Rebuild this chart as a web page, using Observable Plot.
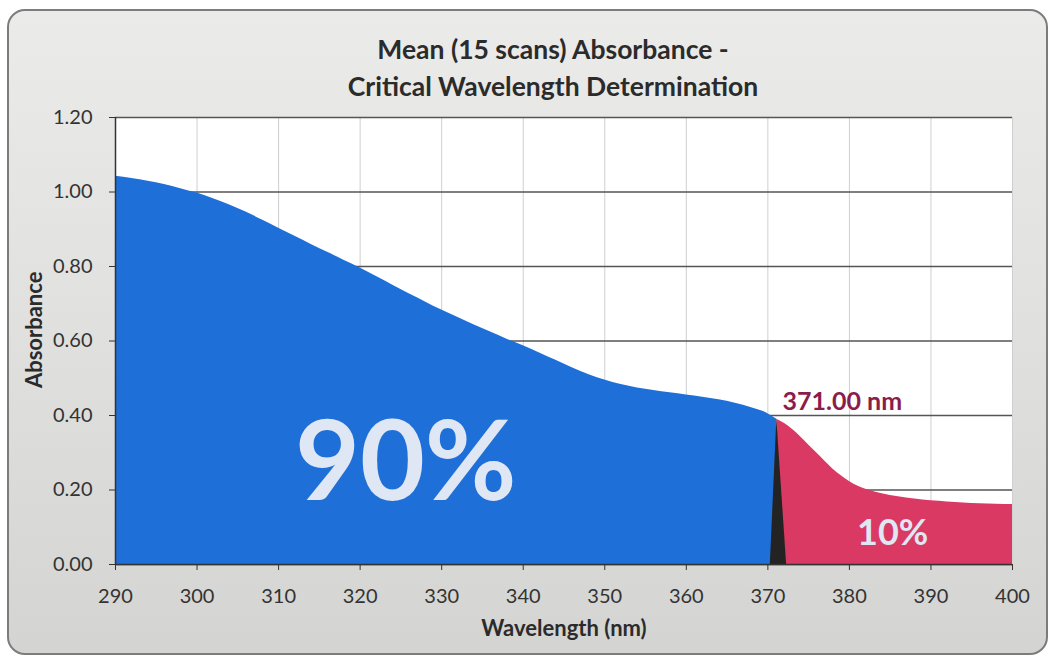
<!DOCTYPE html>
<html>
<head>
<meta charset="utf-8">
<script src="https://cdn.jsdelivr.net/npm/d3@7"></script>
<script src="https://cdn.jsdelivr.net/npm/@observablehq/plot@0.6"></script>
<style>
  html, body { margin: 0; padding: 0; background: #ffffff; }
  #wrap { position: relative; width: 1050px; height: 658px; overflow: hidden; font-family: Lato, "Open Sans", sans-serif; }
  #panel { position: absolute; left: 7px; top: 9px; width: 1037px; height: 642px; border: 2px solid #7c7c7c; border-radius: 18px;
           background: linear-gradient(180deg, #ebebea 0%, #e0e0df 50%, #d4d4d2 100%); }
  #title { position: absolute; left: 0; top: 31px; width: 1106px; text-align: center; font-weight: bold; font-size: 26.5px;
           line-height: 37px; color: #2b2b2b; }
  #chart { position: absolute; left: 0; top: 0; }
</style>
</head>
<body>
<div id="wrap">
  <div id="panel"></div>
  <div id="title">Mean (15 scans) Absorbance -<br>Critical Wavelength Determination</div>
  <div id="chart"></div>
</div>
<script>
// Wavelength (nm) and absorbance
const blueWavelength = [290, 292, 294, 296, 298, 300, 302, 304, 306, 308, 310, 312, 314, 316, 318, 320, 322, 324, 326, 328, 330, 332, 334, 336, 338, 340, 342, 344, 346, 348, 350, 352, 354, 356, 358, 360, 362, 364, 366, 368, 370, 371.1];
const blueAbsorbance = [1.042, 1.036, 1.029, 1.020, 1.009, 0.997, 0.982, 0.965, 0.946, 0.925, 0.903, 0.881, 0.859, 0.838, 0.817, 0.796, 0.773, 0.750, 0.727, 0.705, 0.683, 0.663, 0.643, 0.624, 0.605, 0.587, 0.568, 0.548, 0.528, 0.510, 0.495, 0.483, 0.474, 0.467, 0.461, 0.455, 0.449, 0.442, 0.433, 0.421, 0.405, 0.390];

const redWavelength = [371.1, 372, 373, 374, 375, 376, 377, 378, 379, 380, 381, 382, 384, 386, 388, 390, 392, 394, 396, 398, 400];
const redAbsorbance = [0.390, 0.379, 0.363, 0.343, 0.321, 0.299, 0.277, 0.256, 0.238, 0.223, 0.211, 0.202, 0.190, 0.182, 0.176, 0.171, 0.168, 0.165, 0.163, 0.162, 0.161];

// dark sliver at the critical wavelength
const criticalWavelength = [370.3, 371.1, 372.3];
const criticalAbsorbance = [0, 0.390, 0];

const xTicks = [290, 300, 310, 320, 330, 340, 350, 360, 370, 380, 390, 400];
const yTicks = [0, 0.2, 0.4, 0.6, 0.8, 1.0, 1.2];

const labelTexts = ["90%", "10%"];
const labelWavelength = [325.6, 385.3];
const labelAbsorbance = [0.27, 0.082];
const labelSizes = [112, 36];

const criticalLabel = "371.00 nm";
const criticalLabelPos = [371.8, 0.437];

const blue = blueWavelength.map((w, i) => ({w, a: blueAbsorbance[i]}));
const red = redWavelength.map((w, i) => ({w, a: redAbsorbance[i]}));
const crit = criticalWavelength.map((w, i) => ({w, a: criticalAbsorbance[i]}));
const labels = labelTexts.map((t, i) => ({t, w: labelWavelength[i], a: labelAbsorbance[i], s: labelSizes[i]}));

const chart = Plot.plot({
  width: 1050,
  height: 658,
  marginLeft: 115,
  marginRight: 38,
  marginTop: 117,
  marginBottom: 94,
  style: { background: "transparent", fontFamily: "Lato, 'Open Sans', sans-serif", fontSize: "20px", color: "#333" },
  x: { domain: [290, 400], ticks: xTicks, label: null },
  y: { domain: [0, 1.2], ticks: yTicks, label: null },
  marks: [
    Plot.frame({ fill: "#ffffff", stroke: null }),
    Plot.gridX(xTicks, { stroke: "#cfcfcf", strokeOpacity: 1, strokeWidth: 1 }),
    Plot.gridY(yTicks, { stroke: "#555555", strokeOpacity: 1, strokeWidth: 1.6 }),
    Plot.areaY(blue, { x: "w", y: "a", fill: "#1f6fd8", curve: "monotone-x" }),
    Plot.areaY(red, { x: "w", y: "a", fill: "#da3963", curve: "monotone-x" }),
    Plot.areaY(crit, { x: "w", y: "a", fill: "#232323", curve: "linear" }),
    Plot.ruleY([0], { stroke: "#333", strokeWidth: 1.5 }),
    Plot.ruleX([290], { stroke: "#333", strokeWidth: 1.5 }),
    Plot.axisX({ ticks: xTicks, tickSize: 6, tickPadding: 18, label: null, fontSize: 20, stroke: "#333" }),
    Plot.axisY({ ticks: yTicks, tickSize: 6, tickPadding: 17, tickFormat: d3.format(".2f"), label: null, fontSize: 20, stroke: "#333" }),
    Plot.text(labels, { x: "w", y: "a", text: "t", fontSize: "s", fontWeight: "bold", fill: "#dfe7f4", lineAnchor: "middle", textAnchor: "middle" }),
    Plot.text([criticalLabel], { x: criticalLabelPos[0], y: criticalLabelPos[1], text: d => d, textAnchor: "start", fontSize: 25, fontWeight: "bold", fill: "#8b1d4b" }),
    Plot.text(["Wavelength (nm)"], { frameAnchor: "bottom", dy: 71, text: d => d, fontSize: 22, fontWeight: "bold", fill: "#2b2b2b" }),
    Plot.text(["Absorbance"], { x: 290, y: 0.63, dx: -81, rotate: -90, text: d => d, fontSize: 22, fontWeight: "bold", fill: "#2b2b2b" })
  ]
});
document.getElementById("chart").appendChild(chart);
</script>
</body>
</html>
